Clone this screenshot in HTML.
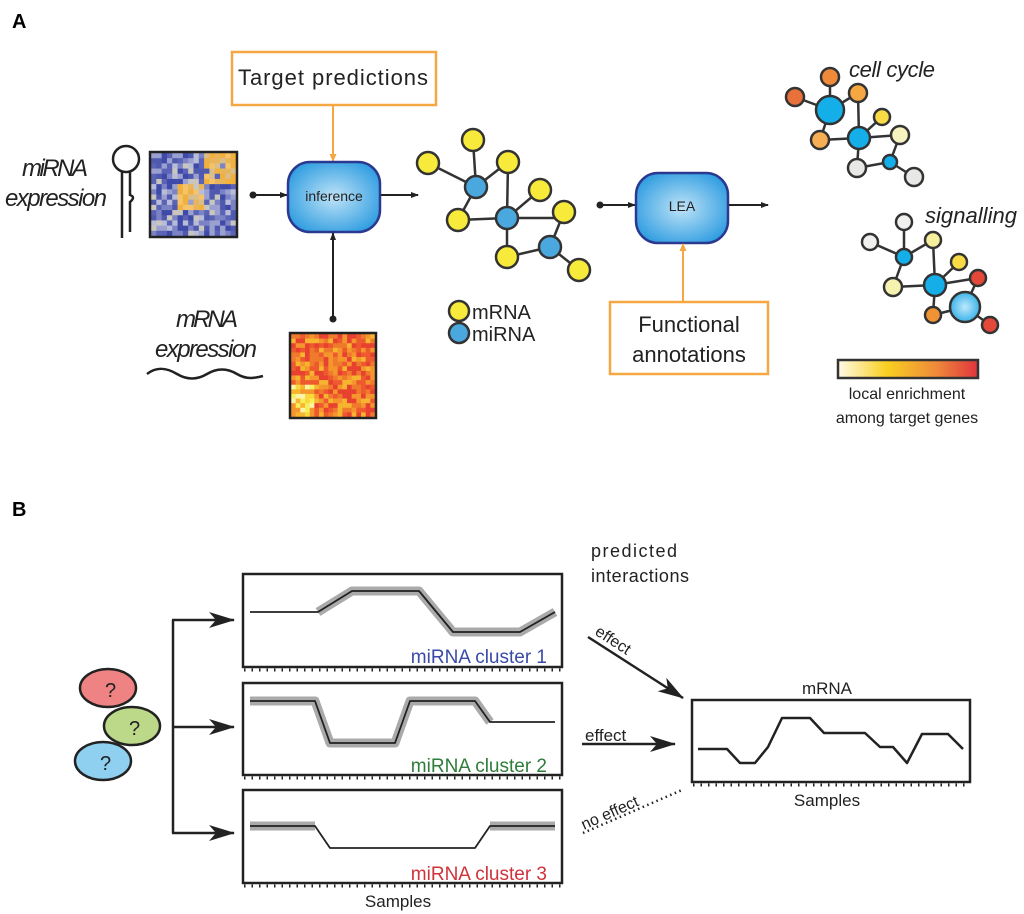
<!DOCTYPE html>
<html><head><meta charset="utf-8"><style>
html,body{margin:0;padding:0;background:#fff;}
svg{display:block;font-family:"Liberation Sans",sans-serif;}
</style></head><body>
<svg id="s" width="1024" height="914" viewBox="0 0 1024 914" xmlns="http://www.w3.org/2000/svg">
<defs>
<radialGradient id="bg" cx="50%" cy="50%" r="60%"><stop offset="0" stop-color="#bfe3f7"/><stop offset="1" stop-color="#2b9be0"/></radialGradient>
<radialGradient id="bb" cx="50%" cy="50%" r="60%"><stop offset="0" stop-color="#bfe8fb"/><stop offset="1" stop-color="#1fa9e6"/></radialGradient>
<linearGradient id="cb" x1="0" x2="1"><stop offset="0" stop-color="#fffbe8"/><stop offset="0.35" stop-color="#f9cf1f"/><stop offset="0.7" stop-color="#ef8a3a"/><stop offset="1" stop-color="#e0343d"/></linearGradient>
<marker id="ah" markerWidth="8" markerHeight="6" refX="7" refY="3" orient="auto" markerUnits="userSpaceOnUse"><path d="M0,0 L8,3 L0,6 Z" fill="#222"/></marker>
<marker id="ao" markerWidth="8" markerHeight="7" refX="7" refY="3.5" orient="auto" markerUnits="userSpaceOnUse"><path d="M0,0 L8,3.5 L0,7 Z" fill="#f5a742"/></marker>
<marker id="big" markerWidth="26" markerHeight="16" refX="25" refY="8" orient="auto" markerUnits="userSpaceOnUse"><path d="M0,0 L26,8 L0,16 L7,8 Z" fill="#222"/></marker>
</defs>

<text x="12" y="28" font-size="20" font-weight="bold">A</text>
<text x="12" y="516" font-size="20" font-weight="bold">B</text>

<rect x="232" y="52" width="204" height="53" fill="#fff" stroke="#f5a742" stroke-width="2.5"/>
<text x="238" y="85" font-size="22" textLength="190" fill="#222">Target predictions</text>
<line x1="333" y1="105" x2="333" y2="161" stroke="#f5a742" stroke-width="2" marker-end="url(#ao)"/>

<g fill="none" stroke="#222" stroke-width="2.5">
<circle cx="126" cy="159" r="13"/>
<path d="M122,171 L122,238"/>
<path d="M130,171 L130,195 Q136,197 130,202 L130,232"/>
</g>
<text x="22" y="176" font-size="24" font-style="italic" textLength="66" fill="#222">miRNA</text>
<text x="5" y="206" font-size="24" font-style="italic" textLength="102" fill="#222">expression</text>

<g id="hm1"></g>
<rect x="150" y="152" width="87" height="85" fill="none" stroke="#222" stroke-width="2.5"/>

<line x1="253" y1="195" x2="287" y2="195" stroke="#222" stroke-width="2" marker-end="url(#ah)"/>
<circle cx="253" cy="195" r="3.5" fill="#222"/>

<rect x="288" y="162" width="92" height="70" rx="22" fill="url(#bg)" stroke="#2b3990" stroke-width="2.5"/>
<text x="334" y="201" font-size="14" text-anchor="middle" fill="#222">inference</text>
<line x1="381" y1="195" x2="418" y2="195" stroke="#222" stroke-width="2" marker-end="url(#ah)"/>

<line x1="333" y1="319" x2="333" y2="233" stroke="#222" stroke-width="2" marker-end="url(#ah)"/>
<circle cx="333" cy="319" r="3.5" fill="#222"/>

<text x="176" y="327" font-size="24" font-style="italic" textLength="62" fill="#222">mRNA</text>
<text x="155" y="357" font-size="24" font-style="italic" textLength="102" fill="#222">expression</text>
<path d="M147,374 C157,366 167,368 177,374 C187,380 197,380 207,374 C217,368 227,368 237,374 C247,380 255,378 263,376" fill="none" stroke="#222" stroke-width="2.5"/>

<g id="hm2"></g>
<rect x="290" y="333" width="86" height="85" fill="none" stroke="#222" stroke-width="2.5"/>

<g stroke="#333" stroke-width="2.5">
<line x1="473" y1="140" x2="476" y2="187"/><line x1="428" y1="163" x2="476" y2="187"/><line x1="508" y1="162" x2="476" y2="187"/>
<line x1="476" y1="187" x2="458" y2="220"/><line x1="458" y1="220" x2="507" y2="218"/><line x1="508" y1="162" x2="507" y2="218"/>
<line x1="540" y1="190" x2="507" y2="218"/><line x1="507" y1="218" x2="564" y2="218"/><line x1="507" y1="218" x2="507" y2="257"/>
<line x1="507" y1="257" x2="550" y2="247"/><line x1="564" y1="212" x2="550" y2="247"/><line x1="550" y1="247" x2="579" y2="270"/>
</g>
<g stroke="#333" stroke-width="2.5" fill="#f7ea3b">
<circle cx="473" cy="140" r="11"/><circle cx="428" cy="163" r="11"/><circle cx="508" cy="162" r="11"/><circle cx="540" cy="190" r="11"/>
<circle cx="458" cy="220" r="11"/><circle cx="564" cy="212" r="11"/><circle cx="507" cy="257" r="11"/><circle cx="579" cy="270" r="11"/>
</g>
<g stroke="#333" stroke-width="2.5" fill="#4aa8df">
<circle cx="476" cy="187" r="11"/><circle cx="507" cy="218" r="11"/><circle cx="550" cy="247" r="11"/>
</g>
<circle cx="459" cy="311" r="10" fill="#f7ea3b" stroke="#333" stroke-width="2.5"/>
<circle cx="459" cy="333" r="10" fill="#4aa8df" stroke="#333" stroke-width="2.5"/>
<text x="472" y="319" font-size="20" fill="#222">mRNA</text>
<text x="472" y="341" font-size="20" fill="#222">miRNA</text>

<line x1="600" y1="205" x2="635" y2="205" stroke="#222" stroke-width="2" marker-end="url(#ah)"/>
<circle cx="600" cy="205" r="3.5" fill="#222"/>
<rect x="636" y="173" width="92" height="70" rx="22" fill="url(#bg)" stroke="#2b3990" stroke-width="2.5"/>
<text x="682" y="211" font-size="14" text-anchor="middle" fill="#222">LEA</text>
<line x1="729" y1="205" x2="768" y2="205" stroke="#222" stroke-width="2" marker-end="url(#ah)"/>
<line x1="683" y1="302" x2="683" y2="244" stroke="#f5a742" stroke-width="2" marker-end="url(#ao)"/>
<rect x="610" y="302" width="158" height="72" fill="#fff" stroke="#f5a742" stroke-width="2.5"/>
<text x="689" y="332" font-size="22" text-anchor="middle" fill="#222">Functional</text>
<text x="689" y="362" font-size="22" text-anchor="middle" fill="#222">annotations</text>

<text x="849" y="77" font-size="22" font-style="italic" textLength="86" fill="#222">cell cycle</text>
<g stroke="#333" stroke-width="2.5">
<line x1="830" y1="77" x2="830" y2="110"/><line x1="795" y1="97" x2="830" y2="110"/><line x1="858" y1="93" x2="830" y2="110"/>
<line x1="830" y1="110" x2="820" y2="140"/><line x1="820" y1="140" x2="859" y2="138"/><line x1="858" y1="93" x2="859" y2="138"/>
<line x1="882" y1="117" x2="859" y2="138"/><line x1="859" y1="138" x2="900" y2="135"/><line x1="859" y1="138" x2="857" y2="168"/>
<line x1="857" y1="168" x2="890" y2="162"/><line x1="900" y1="135" x2="890" y2="162"/><line x1="890" y1="162" x2="914" y2="177"/>
</g>
<g stroke="#333" stroke-width="2.5">
<circle cx="830" cy="77" r="9" fill="#ef8a3a"/><circle cx="795" cy="97" r="9" fill="#e8703a"/><circle cx="830" cy="110" r="14" fill="#14aee8"/>
<circle cx="858" cy="93" r="9" fill="#f5a742"/><circle cx="882" cy="117" r="8" fill="#f9dc45"/><circle cx="859" cy="138" r="11" fill="#14aee8"/>
<circle cx="900" cy="135" r="9" fill="#f7f3c0"/><circle cx="820" cy="140" r="9" fill="#f7ae55"/><circle cx="890" cy="162" r="7" fill="#14aee8"/>
<circle cx="857" cy="168" r="9" fill="#e8e8e6"/><circle cx="914" cy="177" r="9" fill="#e8e8e6"/>
</g>

<text x="925" y="223" font-size="22" font-style="italic" textLength="92" fill="#222">signalling</text>
<g stroke="#333" stroke-width="2.5">
<line x1="904" y1="222" x2="904" y2="257"/><line x1="870" y1="242" x2="904" y2="257"/><line x1="933" y1="240" x2="904" y2="257"/>
<line x1="904" y1="257" x2="893" y2="287"/><line x1="893" y1="287" x2="935" y2="285"/><line x1="933" y1="240" x2="935" y2="285"/>
<line x1="959" y1="262" x2="935" y2="285"/><line x1="935" y1="285" x2="978" y2="278"/><line x1="978" y1="278" x2="965" y2="307"/>
<line x1="935" y1="285" x2="933" y2="315"/><line x1="933" y1="315" x2="965" y2="307"/><line x1="965" y1="307" x2="990" y2="325"/>
</g>
<g stroke="#333" stroke-width="2.5">
<circle cx="904" cy="222" r="8" fill="#f0f0ee"/><circle cx="870" cy="242" r="8" fill="#f0f0ee"/><circle cx="904" cy="257" r="8" fill="#14aee8"/>
<circle cx="933" cy="240" r="8" fill="#f6ef9e"/><circle cx="959" cy="262" r="8" fill="#f9dc45"/><circle cx="935" cy="285" r="11" fill="#14aee8"/>
<circle cx="893" cy="287" r="9" fill="#f6f3b0"/><circle cx="978" cy="278" r="8" fill="#e34838"/><circle cx="965" cy="307" r="15" fill="url(#bb)"/>
<circle cx="933" cy="315" r="8" fill="#ef9335"/><circle cx="990" cy="325" r="8" fill="#e34838"/>
</g>
<rect x="838" y="360" width="140" height="18" fill="url(#cb)" stroke="#333" stroke-width="2.5"/>
<text x="907" y="399" font-size="16" text-anchor="middle" fill="#222">local enrichment</text>
<text x="907" y="423" font-size="16" text-anchor="middle" fill="#222">among target genes</text>

<text x="591" y="557" font-size="18" textLength="86" fill="#222">predicted</text>
<text x="591" y="582" font-size="18" textLength="98" fill="#222">interactions</text>

<ellipse cx="108" cy="688" rx="28" ry="19" fill="#ef8282" stroke="#222" stroke-width="2.5"/>
<ellipse cx="132" cy="726" rx="28" ry="19" fill="#bcd98a" stroke="#222" stroke-width="2.5"/>
<ellipse cx="103" cy="761" rx="28" ry="19" fill="#8fd0f0" stroke="#222" stroke-width="2.5"/>
<text x="105" y="697" font-size="20" fill="#222">?</text>
<text x="129" y="735" font-size="20" fill="#222">?</text>
<text x="100" y="770" font-size="20" fill="#222">?</text>

<path d="M173,620 L173,833" stroke="#222" stroke-width="2.5" fill="none"/>
<line x1="172" y1="620" x2="234" y2="620" stroke="#222" stroke-width="2.5" marker-end="url(#big)"/>
<line x1="172" y1="727" x2="234" y2="727" stroke="#222" stroke-width="2.5" marker-end="url(#big)"/>
<line x1="172" y1="833" x2="234" y2="833" stroke="#222" stroke-width="2.5" marker-end="url(#big)"/>

<g fill="none" stroke="#222" stroke-width="2.5">
<rect x="243" y="574" width="319" height="93"/>
<rect x="243" y="683" width="319" height="92"/>
<rect x="243" y="790" width="319" height="93"/>
<rect x="692" y="700" width="278" height="82"/>
</g>
<g stroke="#222" stroke-width="3" stroke-dasharray="1.5,6">
<line x1="244" y1="670" x2="562" y2="670"/><line x1="244" y1="778" x2="562" y2="778"/><line x1="244" y1="886" x2="562" y2="886"/>
<line x1="693" y1="785" x2="970" y2="785"/>
</g>

<g fill="none" stroke="#aaaaaa" stroke-width="9" stroke-linejoin="round">
<path d="M318,612 L352,591 L419,591 L453,632 L520,632 L555,612"/>
<path d="M250,701 L315,701 L330,743 L395,743 L410,701 L475,701 L490,722"/>
<path d="M250,826 L315,826 M490,826 L555,826"/>
</g>
<g fill="none" stroke="#222" stroke-width="1.8" stroke-linejoin="round">
<path d="M250,612 L318,612 L352,591 L419,591 L453,632 L520,632 L555,612"/>
<path d="M250,701 L315,701 L330,743 L395,743 L410,701 L475,701 L490,722 L555,722"/>
<path d="M250,826 L315,826 L330,848 L475,848 L490,826 L555,826"/>
</g>
<text x="547" y="663" font-size="19" text-anchor="end" fill="#3a4aa6">miRNA cluster 1</text>
<text x="547" y="772" font-size="19" text-anchor="end" fill="#2e7d3a">miRNA cluster 2</text>
<text x="547" y="880" font-size="19" text-anchor="end" fill="#d0323a">miRNA cluster 3</text>
<text x="398" y="907" font-size="17" text-anchor="middle" fill="#222">Samples</text>

<text x="827" y="694" font-size="17" text-anchor="middle" fill="#222">mRNA</text>
<text x="827" y="806" font-size="17" text-anchor="middle" fill="#222">Samples</text>
<path d="M698,749 L727,749 L740,763 L755,763 L768,747 L782,718 L810,718 L824,733 L865,733 L880,747 L893,747 L907,763 L922,734 L948,734 L963,749" fill="none" stroke="#222" stroke-width="2.5" stroke-linejoin="round"/>

<line x1="588" y1="637" x2="683" y2="698" stroke="#222" stroke-width="2.5" marker-end="url(#big)"/>
<text x="0" y="0" font-size="16" fill="#222" transform="translate(594,634) rotate(33)">effect</text>
<line x1="582" y1="744" x2="675" y2="744" stroke="#222" stroke-width="2.5" marker-end="url(#big)"/>
<text x="585" y="741" font-size="17" fill="#222">effect</text>
<line x1="583" y1="833" x2="682" y2="790" stroke="#222" stroke-width="2.5" stroke-dasharray="1.5,3.5"/>
<text x="0" y="0" font-size="16" fill="#222" transform="translate(584,830) rotate(-24)">no effect</text>
</svg>
<script>
(function(){
var ns="http://www.w3.org/2000/svg";
var seed=7;function r(){seed=(seed*9301+49297)%233280;return seed/233280;}
function hm(id,x0,y0,w,h,n,fn){var g=document.getElementById(id);var cw=w/n,ch=h/n;
for(var i=0;i<n;i++)for(var j=0;j<n;j++){var e=document.createElementNS(ns,"rect");
e.setAttribute("x",x0+j*cw);e.setAttribute("y",y0+i*ch);e.setAttribute("width",cw+0.3);e.setAttribute("height",ch+0.3);
e.setAttribute("fill",fn(i,j));g.appendChild(e);}}
var blues=["#3f4aa8","#5a63b5","#7b83c4","#9aa0cf","#b8bcd8","#c9c6c0","#4f59ae"];
var oranges=["#f2b13c","#e9b55a","#f5c46a","#d9bd8a","#eeb040"];
hm("hm1",151,153,85,83,16,function(i,j){
 var o=(i<6&&j>=10)||(i>=6&&i<11&&j>=5&&j<10);
 if(o&&r()<0.85)return oranges[Math.floor(r()*oranges.length)];
 return blues[Math.floor(r()*blues.length)];});
var reds=["#e8412f","#ee5a2e","#f07a2c","#f4962c","#f7b52f","#f9d83a","#f7ee5a","#fbf3a8","#e53a34"];
hm("hm2",291,334,84,83,18,function(i,j){
 var t=r(); var b=(i>10&&j<5)?3:0;
 return reds[Math.min(reds.length-2,Math.floor(t*5)+b)];});
})();
</script>
</body></html>
